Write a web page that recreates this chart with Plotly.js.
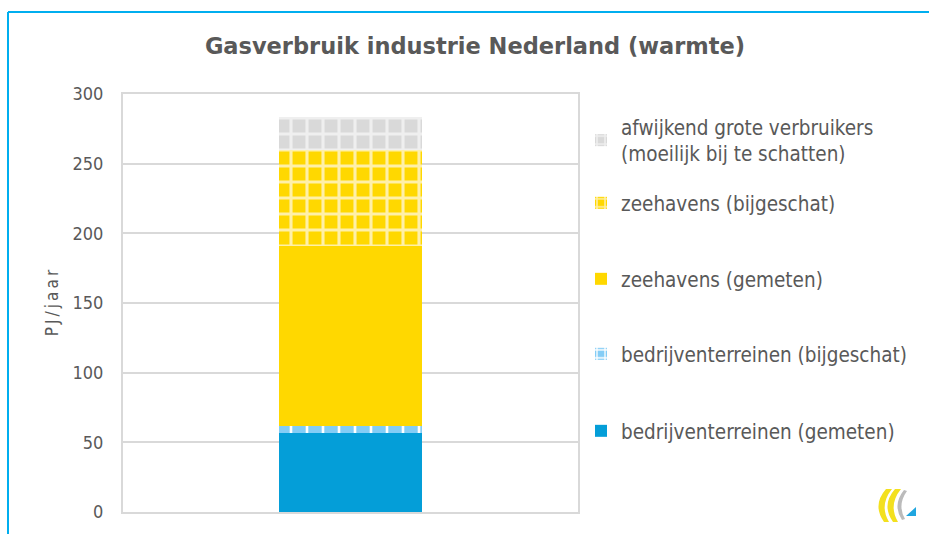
<!DOCTYPE html>
<html>
<head>
<meta charset="utf-8">
<script src="https://cdn.plot.ly/plotly-3.0.1.min.js"></script>
<style>
html,body{margin:0;padding:0;background:#fff;}
#chart{width:929px;height:534px;}
</style>
</head>
<body>
<div id="chart"></div>
<script>
// ---- data ----
const categories = ["Nederland"];
const seriesNames = [
  "bedrijventerreinen (gemeten)",
  "bedrijventerreinen (bijgeschat)",
  "zeehavens (gemeten)",
  "zeehavens (bijgeschat)",
  "afwijkend grote verbruikers<br>(moeilijk bij te schatten)"
];
const bedrijventerreinenGemeten = [57];
const bedrijventerreinenBijgeschat = [5];
const zeehavensGemeten = [129];
const zeehavensBijgeschat = [69];
const afwijkendGroteVerbruikers = [23.5];
const yTickValues = [0, 50, 100, 150, 200, 250, 300];

// ---- styles ----
const txt = "#595959";
const fontCond = "DejaVu Sans Condensed, DejaVu Sans, sans-serif";
const fontTitle = "DejaVu Sans, Verdana, sans-serif";
const styles = [
  {color: "#049ed8"},
  {color: "#84cdf6", pattern: {shape: "+", bgcolor: "#84cdf6", fgcolor: "#ffffff", size: 16, solidity: 0.3}},
  {color: "#ffd800"},
  {color: "#ffd800", pattern: {shape: "+", bgcolor: "#ffd800", fgcolor: "#fff0a8", size: 16, solidity: 0.35}},
  {color: "#d9d9d9", pattern: {shape: "+", bgcolor: "#d9d9d9", fgcolor: "#efefef", size: 16, solidity: 0.35}}
];
const values = [bedrijventerreinenGemeten, bedrijventerreinenBijgeschat, zeehavensGemeten, zeehavensBijgeschat, afwijkendGroteVerbruikers];
const legendIds = ["legend5", "legend4", "legend3", "legend2", "legend"];

const traces = values.map((v, i) => ({
  type: "bar",
  x: categories,
  y: v,
  name: seriesNames[i],
  legend: legendIds[i],
  marker: Object.assign({line: {width: 0}}, styles[i]),
  width: 0.316,
  hoverinfo: "y+name"
}));

// legend first-line centre pixel positions (same order as the series)
const legendPixY = [431, 354, 279, 203, 127];
const plotTop = 94, plotBottom = 512, plotLeft = 123, plotRight = 578;
const py = p => (plotBottom - p) / (plotBottom - plotTop);
const px = p => (p - plotLeft) / (plotRight - plotLeft);

const layout = {
  width: 929, height: 534,
  margin: {l: plotLeft, r: 929 - plotRight, t: plotTop, b: 534 - plotBottom},
  paper_bgcolor: "#ffffff",
  plot_bgcolor: "#ffffff",
  barmode: "stack",
  font: {family: fontCond, color: txt, size: 18},
  title: {
    text: "<b>Gasverbruik industrie Nederland (warmte)</b>",
    font: {family: fontTitle, size: 22.5, color: txt},
    x: 475 / 929, xanchor: "center", xref: "container",
    y: 1 - 46 / 534, yanchor: "middle"
  },
  xaxis: {
    showticklabels: false, showgrid: false, zeroline: false,
    showline: true, mirror: true, linecolor: "#d9d9d9", linewidth: 2,
    range: [-0.5, 0.5], fixedrange: true
  },
  yaxis: {
    range: [0, 300], tickvals: yTickValues,
    showgrid: true, gridcolor: "#d9d9d9", gridwidth: 2,
    zeroline: false, showline: true, mirror: true, linecolor: "#d9d9d9", linewidth: 2,
    ticks: "", ticklabelstandoff: 14,
    tickfont: {family: fontCond, size: 18, color: txt},
    title: {text: "P\u2009J\u2009/\u2009j\u2009a\u2009a\u2009r", font: {family: fontCond, size: 17, color: txt}, standoff: 10}
  },
  showlegend: true,
  shapes: [
    // outer frame (top and left)
    {type: "line", xref: "paper", yref: "paper", x0: px(8), x1: px(935), y0: py(12), y1: py(12), line: {color: "#00aeef", width: 2}},
    {type: "line", xref: "paper", yref: "paper", x0: px(8), x1: px(8), y0: py(12), y1: py(540), line: {color: "#00aeef", width: 2}},
    // logo
    {type: "path", xref: "paper", yref: "paper",
     path: `M ${px(886)} ${py(489)} Q ${px(872)} ${py(505)} ${px(884)} ${py(522)} L ${px(889)} ${py(522)} Q ${px(879)} ${py(505)} ${px(892)} ${py(489)} Z`,
     fillcolor: "#f3e01f", line: {width: 0}},
    {type: "path", xref: "paper", yref: "paper",
     path: `M ${px(895)} ${py(489)} Q ${px(881)} ${py(505)} ${px(893)} ${py(522)} L ${px(898)} ${py(522)} Q ${px(888)} ${py(505)} ${px(901)} ${py(489)} Z`,
     fillcolor: "#f3e01f", line: {width: 0}},
    {type: "path", xref: "paper", yref: "paper",
     path: `M ${px(904)} ${py(490)} Q ${px(892)} ${py(505)} ${px(902)} ${py(520)} L ${px(905)} ${py(519)} Q ${px(897)} ${py(505)} ${px(907)} ${py(491)} Z`,
     fillcolor: "#bbbbbb", line: {width: 0}},
    {type: "path", xref: "paper", yref: "paper",
     path: `M ${px(906)} ${py(516)} L ${px(916)} ${py(507)} L ${px(916)} ${py(516)} Z`,
     fillcolor: "#1fa6e0", line: {width: 0}}
  ]
};

legendIds.forEach((id, i) => {
  layout[id] = {
    x: px(581), xanchor: "left", xref: "paper",
    y: py(legendPixY[i] - 20), yanchor: "top", yref: "paper",
    bgcolor: "rgba(0,0,0,0)",
    font: {family: fontCond, size: 20.5, color: txt},
    itemwidth: 30,
    tracegroupgap: 0
  };
});

Plotly.newPlot("chart", traces, layout, {displayModeBar: false, staticPlot: true});
</script>
</body>
</html>
